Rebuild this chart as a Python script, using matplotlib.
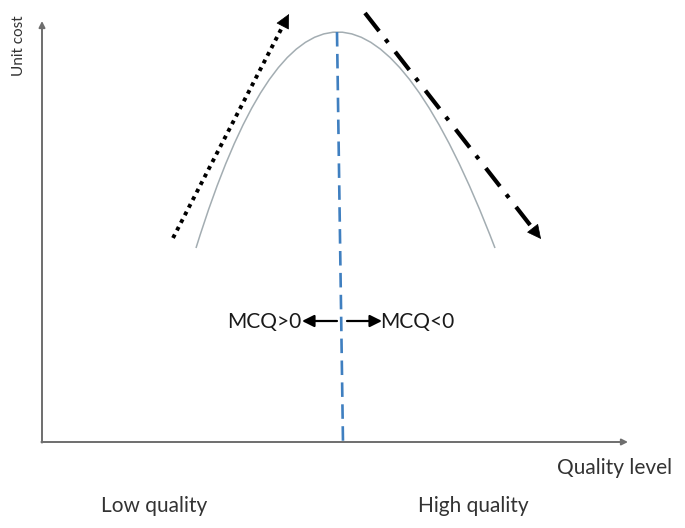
import matplotlib
matplotlib.use("Agg")
import matplotlib.pyplot as plt
from matplotlib.path import Path
from matplotlib.patches import PathPatch
import numpy as np

plt.rcParams['font.family'] = ['Lato', 'DejaVu Sans']

# Data (diagram coordinates, pixel-like units, y downward)
# quadratic Bezier control points of the cost curve: start, control, end
curve_x = [196, 330, 495]
curve_y = [248, -184, 248]

peak_line_x = [337, 343]
peak_line_y = [32, 443]

rise_arrow_x = [173, 289]
rise_arrow_y = [238, 14]
fall_arrow_x = [365, 541]
fall_arrow_y = [13, 239]

axis_origin = (42, 442)
y_axis_top = 21
x_axis_right = 628

labels = {
    "ylabel": "Unit cost",
    "xlabel": "Quality level",
    "low": "Low quality",
    "high": "High quality",
    "pos": "MCQ>0",
    "neg": "MCQ<0",
}

fig = plt.figure(figsize=(6.85, 5.28), dpi=100)
ax = fig.add_axes([0, 0, 1, 1])
ax.set_xlim(0, 685)
ax.set_ylim(528, 0)
ax.axis('off')

axis_col = '#6e6e6e'
ox, oy = axis_origin
ax.annotate('', xy=(ox, y_axis_top), xytext=(ox, oy + 0.6),
            arrowprops=dict(arrowstyle='-|>', color=axis_col, lw=1.4, mutation_scale=9,
                            shrinkA=0, shrinkB=0))
ax.annotate('', xy=(x_axis_right, oy), xytext=(ox - 0.6, oy),
            arrowprops=dict(arrowstyle='-|>', color=axis_col, lw=1.4, mutation_scale=9,
                            shrinkA=0, shrinkB=0))

# curve (quadratic Bezier)
path = Path(list(zip(curve_x, curve_y)), [Path.MOVETO, Path.CURVE3, Path.CURVE3])
ax.add_patch(PathPatch(path, facecolor='none', edgecolor='#a3adb2', lw=1.1))

# vertical blue dashed
ax.plot(peak_line_x, peak_line_y, color='#3f7fc0', lw=1.9, linestyle=(0, (5.5, 2.8)))

def arrow_line(xs, ys, ls, lw, head):
    x0, x1 = xs
    y0, y1 = ys
    d = np.hypot(x1 - x0, y1 - y0)
    ux, uy = (x1 - x0) / d, (y1 - y0) / d
    back = 11
    ax.plot([x0, x1 - ux * back], [y0, y1 - uy * back], color='black', lw=lw, linestyle=ls)
    ax.annotate('', xy=(x1, y1), xytext=(x1 - ux * (back + 2), y1 - uy * (back + 2)),
                arrowprops=dict(arrowstyle='-|>', color='black', lw=0.5, mutation_scale=head,
                                shrinkA=0, shrinkB=0))

arrow_line(rise_arrow_x, rise_arrow_y, (0, (1, 1.2)), 2.8, 23)
arrow_line(fall_arrow_x, fall_arrow_y, (0, (5.5, 2.5, 1, 2.8)), 3.0, 23)

# MCQ arrows
ax.annotate('', xy=(302, 321), xytext=(337, 321),
            arrowprops=dict(arrowstyle='-|>', color='black', lw=1.6, mutation_scale=18,
                            shrinkA=0, shrinkB=0))
ax.annotate('', xy=(382, 321), xytext=(347, 321),
            arrowprops=dict(arrowstyle='-|>', color='black', lw=1.6, mutation_scale=18,
                            shrinkA=0, shrinkB=0))
ax.text(301, 322, labels["pos"], ha='right', va='center', fontsize=15, color='#1a1a1a')
ax.text(380, 322, labels["neg"], ha='left', va='center', fontsize=15, color='#1a1a1a')

txt_col = '#333333'
ax.text(19, 46, labels["ylabel"], rotation=90, ha='center', va='center', fontsize=11, color=txt_col)
ax.text(615, 468, labels["xlabel"], ha='center', va='center', fontsize=15, color=txt_col)
ax.text(154, 506, labels["low"], ha='center', va='center', fontsize=15, color=txt_col)
ax.text(473, 506, labels["high"], ha='center', va='center', fontsize=15, color=txt_col)

fig.savefig('out.png', dpi=100)
